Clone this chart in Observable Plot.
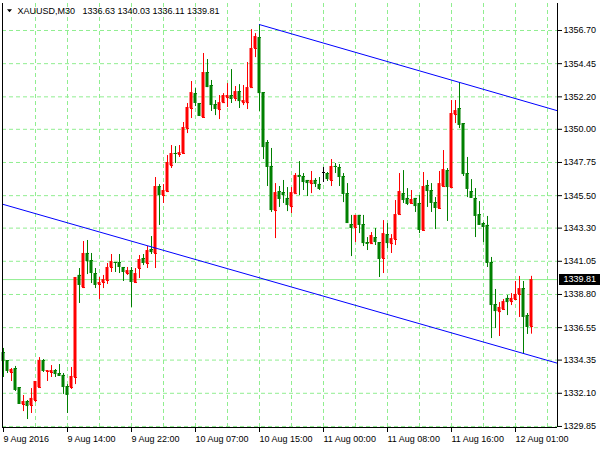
<!DOCTYPE html>
<html>
<head>
<meta charset="utf-8">
<script src="https://cdn.jsdelivr.net/npm/d3@7"></script>
<script src="https://cdn.jsdelivr.net/npm/@observablehq/plot@0.6"></script>
<style>
  html, body { margin: 0; padding: 0; background: #ffffff; }
  #chart svg { display: block; }
</style>
</head>
<body>
<div id="chart"></div>
<script>
// ---- data (XAUUSD, M30 bars) ----
const symbolName = "XAUUSD,M30";

const open = [
  1334.86, 1334.32, 1333.51, 1333.78, 1332.49, 1331.34, 1331.54, 1331.27, 1331.61, 1332.49,
  1334.32, 1333.58, 1333.51, 1333.64, 1333.44, 1333.31, 1332.56, 1332.49, 1333.17, 1340.09,
  1339.27, 1341.58, 1341.10, 1340.22, 1339.48, 1339.61, 1339.75, 1340.63, 1340.97, 1340.97,
  1340.63, 1340.22, 1340.42, 1339.61, 1340.56, 1341.24, 1340.90, 1341.85, 1341.58, 1346.12,
  1345.51, 1345.78, 1347.54, 1348.36, 1348.29, 1348.36, 1350.05, 1351.41, 1352.42, 1351.75,
  1350.80, 1353.85, 1352.97, 1351.68, 1351.34, 1351.81, 1352.15, 1352.29, 1352.09, 1352.56,
  1351.81, 1351.81, 1352.83, 1355.48, 1356.22, 1352.49, 1349.10, 1347.48, 1344.49, 1345.78,
  1345.71, 1345.31, 1344.76, 1345.64, 1346.87, 1346.80, 1346.53, 1346.32, 1346.53, 1346.26,
  1347.07, 1347.00, 1346.53, 1347.48, 1347.41, 1346.80, 1345.64, 1343.54, 1343.34, 1344.16,
  1343.54, 1342.32, 1342.25, 1342.66, 1342.32, 1341.24, 1342.86, 1342.25, 1342.53, 1344.22,
  1345.64, 1345.31, 1344.97, 1345.31, 1344.97, 1343.14, 1346.19, 1345.85, 1345.03, 1344.63,
  1346.12, 1347.20, 1346.05, 1351.00, 1351.41, 1350.39, 1347.00, 1345.78, 1345.31, 1344.22,
  1343.61, 1343.48, 1340.97, 1338.12, 1337.64, 1337.78, 1338.53, 1338.32, 1338.46, 1338.80,
  1339.20, 1337.37, 1336.63
];
const high = [
  1335.14, 1334.32, 1333.78, 1333.92, 1332.49, 1331.95, 1331.61, 1332.42, 1332.90, 1334.52,
  1334.39, 1333.64, 1333.98, 1333.71, 1334.05, 1333.44, 1332.69, 1333.85, 1339.95, 1340.56,
  1342.39, 1342.46, 1341.58, 1340.56, 1339.95, 1340.09, 1340.90, 1341.51, 1340.97, 1341.51,
  1340.63, 1340.63, 1340.63, 1340.56, 1341.44, 1341.51, 1342.05, 1342.73, 1346.73, 1346.25,
  1346.25, 1348.22, 1348.90, 1348.83, 1348.90, 1350.46, 1351.75, 1353.24, 1352.76, 1351.75,
  1355.14, 1354.73, 1353.31, 1351.95, 1352.29, 1352.42, 1353.10, 1354.05, 1352.90, 1353.03,
  1352.97, 1354.53, 1356.76, 1356.49, 1357.10, 1352.49, 1349.24, 1348.70, 1346.32, 1346.12,
  1346.53, 1346.05, 1346.05, 1347.00, 1347.81, 1347.00, 1346.53, 1347.14, 1346.66, 1346.73,
  1347.41, 1347.07, 1347.95, 1347.68, 1347.61, 1347.00, 1346.32, 1344.16, 1344.16, 1344.16,
  1344.16, 1342.66, 1343.00, 1343.27, 1342.32, 1343.81, 1343.61, 1342.86, 1345.17, 1347.00,
  1347.20, 1345.98, 1345.85, 1345.31, 1345.51, 1347.07, 1346.53, 1346.32, 1345.37, 1347.14,
  1348.56, 1347.34, 1351.95, 1351.95, 1353.17, 1350.39, 1348.09, 1346.59, 1345.98, 1345.10,
  1343.68, 1344.09, 1341.31, 1339.14, 1338.25, 1338.46, 1338.73, 1338.86, 1339.68, 1340.02,
  1339.68, 1337.51, 1340.03
];
const low = [
  1333.17, 1333.44, 1332.90, 1332.22, 1331.34, 1330.86, 1330.32, 1330.73, 1331.47, 1332.49,
  1333.51, 1332.90, 1333.17, 1333.17, 1333.24, 1332.02, 1330.73, 1332.36, 1332.69, 1338.19,
  1339.20, 1340.15, 1339.54, 1339.20, 1338.46, 1339.20, 1339.48, 1340.29, 1340.29, 1340.22,
  1339.68, 1340.09, 1337.92, 1339.61, 1339.88, 1340.76, 1340.56, 1341.51, 1340.56, 1343.48,
  1344.97, 1345.71, 1347.34, 1347.68, 1348.09, 1348.36, 1349.71, 1350.73, 1351.54, 1350.87,
  1350.80, 1352.83, 1351.21, 1350.93, 1350.66, 1351.75, 1351.48, 1351.75, 1351.88, 1351.41,
  1351.61, 1351.34, 1352.83, 1354.86, 1351.21, 1347.95, 1346.12, 1344.36, 1342.59, 1344.70,
  1344.97, 1344.42, 1344.29, 1345.64, 1345.51, 1345.85, 1345.44, 1345.64, 1346.05, 1345.85,
  1346.39, 1346.46, 1346.12, 1347.00, 1346.12, 1345.03, 1343.61, 1341.37, 1342.32, 1342.93,
  1342.05, 1341.78, 1342.19, 1342.12, 1339.95, 1340.22, 1341.91, 1341.58, 1342.12, 1344.22,
  1344.97, 1344.83, 1344.97, 1344.36, 1342.93, 1343.14, 1344.70, 1344.36, 1343.20, 1344.63,
  1346.12, 1343.75, 1346.05, 1350.39, 1350.05, 1346.80, 1345.37, 1345.31, 1342.66, 1343.48,
  1342.32, 1340.63, 1335.81, 1336.49, 1335.95, 1337.78, 1337.37, 1338.05, 1338.46, 1337.24,
  1334.73, 1336.09, 1336.11
];
const close = [
  1334.25, 1333.58, 1333.71, 1332.29, 1331.34, 1331.54, 1331.20, 1331.75, 1332.90, 1334.32,
  1333.58, 1333.64, 1333.64, 1333.37, 1333.24, 1332.49, 1331.95, 1333.24, 1339.95, 1339.41,
  1341.58, 1341.03, 1340.22, 1339.41, 1339.61, 1339.81, 1340.63, 1341.03, 1340.90, 1340.63,
  1340.29, 1340.42, 1339.61, 1340.22, 1341.17, 1340.90, 1341.78, 1341.64, 1346.12, 1345.51,
  1345.85, 1347.75, 1348.36, 1348.29, 1348.42, 1350.12, 1351.48, 1352.49, 1351.75, 1350.87,
  1353.85, 1352.83, 1351.61, 1351.34, 1351.81, 1352.29, 1352.29, 1352.02, 1352.56, 1351.88,
  1351.95, 1352.83, 1355.48, 1356.29, 1352.42, 1348.76, 1347.41, 1344.49, 1345.71, 1345.24,
  1345.51, 1344.83, 1345.71, 1346.87, 1346.73, 1346.39, 1346.32, 1346.53, 1346.26, 1345.92,
  1347.07, 1346.59, 1347.48, 1347.41, 1346.73, 1345.58, 1343.61, 1343.27, 1344.16, 1343.48,
  1342.25, 1342.19, 1342.80, 1342.32, 1341.17, 1342.93, 1342.25, 1342.59, 1344.22, 1345.78,
  1345.17, 1344.90, 1345.24, 1344.76, 1343.14, 1346.12, 1345.78, 1344.97, 1344.63, 1346.32,
  1347.27, 1346.05, 1351.07, 1351.27, 1350.26, 1346.93, 1345.92, 1345.31, 1344.09, 1343.48,
  1343.34, 1340.90, 1338.05, 1337.64, 1337.92, 1338.32, 1338.25, 1338.53, 1338.80, 1339.20,
  1337.24, 1336.56, 1339.81
];

// time axis labels (bar index of each labelled bar)
const timeLabels = ["9 Aug 2016", "9 Aug 14:00", "9 Aug 22:00", "10 Aug 07:00", "10 Aug 15:00",
                    "11 Aug 00:00", "11 Aug 08:00", "11 Aug 16:00", "12 Aug 01:00"];
const timeLabelBars = [0, 16, 32, 48, 64, 80, 96, 112, 128];
const gridBars = [8, 16, 24, 32, 40, 48, 56, 64, 72, 80, 88, 96, 104, 112, 120, 128, 136];

// price axis labels
const priceTicks = [1356.70, 1354.45, 1352.20, 1350.00, 1347.75, 1345.50, 1343.30,
                    1341.05, 1338.80, 1336.55, 1334.35, 1332.10, 1329.85];

// trend channel lines (bar index, price)
const lowerChannel = [{bar: -1, price: 1344.98}, {bar: 140, price: 1334.02}];
const upperChannel = [{bar: 64, price: 1357.10}, {bar: 140, price: 1351.14}];

// ---- build ----
const candles = open.map((o, i) => ({
  i, o, h: high[i], l: low[i], c: close[i],
  dir: close[i] > o ? "up" : close[i] < o ? "down" : "flat"
}));
const last = candles[candles.length - 1];
const colorOf = d => d.dir === "up" ? "#ff0000" : d.dir === "down" ? "#008000" : "#000000";

const xDomain = [-0.25, 138.5];
const yDomain = [1329.78, 1358.53];

const boxSymbol = { draw(ctx) { ctx.moveTo(1.5, -5.5); ctx.lineTo(43.5, -5.5); ctx.lineTo(43.5, 5.5); ctx.lineTo(1.5, 5.5); ctx.closePath(); } };
const triSymbol = { draw(ctx) { ctx.moveTo(-2.5, -1.5); ctx.lineTo(2.5, -1.5); ctx.lineTo(0, 1.5); ctx.closePath(); } };

const titleText = symbolName + "\u00a0\u00a0 " + [last.o, last.h, last.l, last.c].map(v => v.toFixed(2)).join(" ");

const chart = Plot.plot({
  width: 600,
  height: 450,
  marginLeft: 2,
  marginRight: 43,
  marginTop: 3,
  marginBottom: 23,
  style: { fontFamily: "'Liberation Sans', Arial, sans-serif", fontSize: "9px", color: "#000", background: "#fff" },
  x: { type: "linear", domain: xDomain },
  y: { type: "linear", domain: yDomain },
  marks: [
    // grid
    Plot.ruleX(gridBars, { stroke: "#90ee90", strokeDasharray: "4,3", strokeWidth: 1 }),
    Plot.ruleY(priceTicks, { stroke: "#90ee90", strokeDasharray: "4,3", strokeWidth: 1 }),
    // current price line
    Plot.ruleY([last.c], { stroke: "#90ee90", strokeWidth: 1 }),
    // candles: wicks, bodies, min-height body line
    Plot.ruleX(candles, { x: "i", y1: "l", y2: "h", stroke: colorOf, strokeWidth: 1 }),
    Plot.rect(candles, { x1: d => d.i - 0.375, x2: d => d.i + 0.375, y1: "o", y2: "c", fill: colorOf }),
    Plot.link(candles, { x1: d => d.i - 0.375, x2: d => d.i + 0.375, y1: "o", y2: "o", stroke: colorOf, strokeWidth: 1 }),
    // channel lines
    Plot.line(lowerChannel, { x: "bar", y: "price", stroke: "#0000ff", strokeWidth: 1, clip: true }),
    Plot.line(upperChannel, { x: "bar", y: "price", stroke: "#0000ff", strokeWidth: 1, clip: true }),
    // chart border (left, right, bottom)
    Plot.ruleX(xDomain, { stroke: "#000", strokeWidth: 1 }),
    Plot.ruleY([yDomain[0]], { stroke: "#000", strokeWidth: 1 }),
    // axes
    Plot.axisX(timeLabelBars, {
      anchor: "bottom", tickSize: 5, tickPadding: 3, textAnchor: "start", label: null,
      tickFormat: d => timeLabels[timeLabelBars.indexOf(d)], fill: "#000", stroke: "#000"
    }),
    Plot.axisY(priceTicks, {
      anchor: "right", tickSize: 4, tickPadding: 2, label: null,
      tickFormat: d => d.toFixed(2), fill: "#000", stroke: "#000"
    }),
    // current price label box
    Plot.dot([last], { y: "c", frameAnchor: "right", symbol: boxSymbol, fill: "#000", stroke: "none", r: 5 }),
    Plot.text([last], { y: "c", frameAnchor: "right", text: d => d.c.toFixed(2), textAnchor: "start", dx: 6, fill: "#fff" }),
    // title
    Plot.dot([0], { frameAnchor: "top-left", symbol: triSymbol, fill: "#000", stroke: "none", dx: 7, dy: 7.3, r: 3 }),
    Plot.text([titleText], { frameAnchor: "top-left", textAnchor: "start", lineAnchor: "top", dx: 15, dy: 4, fill: "#000" })
  ]
});

document.getElementById("chart").appendChild(chart);
</script>
</body>
</html>
